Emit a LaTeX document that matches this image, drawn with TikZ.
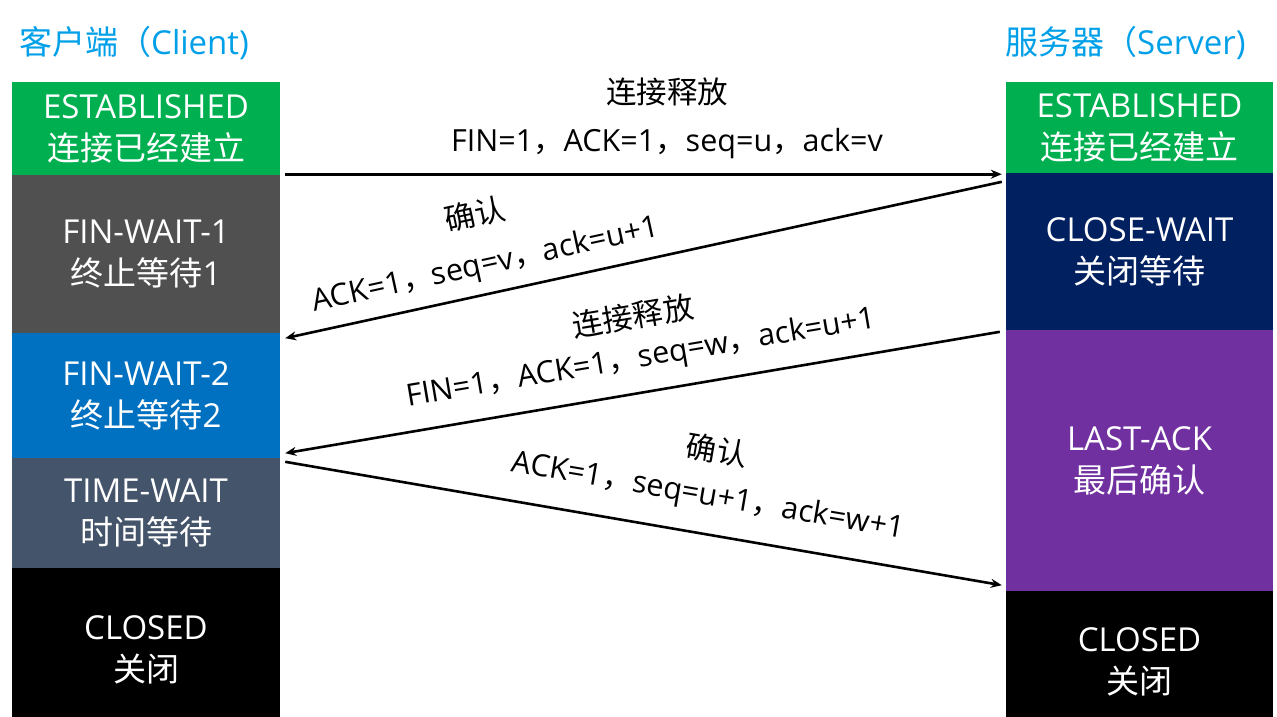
\documentclass[tikz,border=0pt]{standalone}
\usepackage{fontspec}
\setmainfont{Open Sans}
\newfontfamily\cjk{Noto Sans CJK SC}
\usetikzlibrary{arrows.meta}

\definecolor{estgreen}{RGB}{0,176,80}
\definecolor{fwgray}{RGB}{80,80,80}
\definecolor{fwblue}{RGB}{0,112,192}
\definecolor{twslate}{RGB}{68,84,106}
\definecolor{cwnavy}{RGB}{0,32,96}
\definecolor{lapurple}{RGB}{112,48,160}
\definecolor{titleblue}{RGB}{0,160,233}

\newcommand{\zh}[1]{{\cjk #1}}
\newcommand{\dou}{\zh{，}}

\begin{document}
\begin{tikzpicture}[x=1pt,y=-1pt,
    box/.style={inner sep=0pt,minimum width=268pt,text=white,align=center,
        font=\fontsize{33}{42}\selectfont},
    msg/.style={black,line width=2.6pt,-{Stealth[length=11pt,width=9pt]}},
    lbl/.style={inner sep=0pt,font=\fontsize{30.5}{32}\selectfont},
    title/.style={anchor=west,inner sep=0pt,text=titleblue,font=\fontsize{33}{36}\selectfont}]
            \useasboundingbox[fill=white] (0,0) rectangle (1277,716);

            % client side
            \node[title] (ctitle) at (19,43) {\zh{客户端（}Client)};
            \node[box,fill=estgreen,minimum height=93pt] (cest) at (146,128.5) {ESTABLISHED\\\zh{连接已经建立}};
            \node[box,fill=fwgray,minimum height=158pt] (cfw1) at (146,254) {FIN-WAIT-1\\\zh{终止等待}1};
            \node[box,fill=fwblue,minimum height=125pt] (cfw2) at (146,395.5) {FIN-WAIT-2\\\zh{终止等待}2};
            \node[box,fill=twslate,minimum height=110pt] (ctw) at (146,513) {TIME-WAIT\\\zh{时间等待}};
            \node[box,fill=black,minimum height=164pt] (ccl) at (146,650) {CLOSED\\\zh{关闭}};

            % server side
            \node[title] (stitle) at (1005,43) {\zh{服务器（}Server)};
            \node[box,fill=estgreen,minimum width=267pt,minimum height=91pt] (sest) at (1139.5,127.5) {ESTABLISHED\\\zh{连接已经建立}};
            \node[box,fill=cwnavy,minimum width=267pt,minimum height=157pt] (scw) at (1139.5,251.5) {CLOSE-WAIT\\\zh{关闭等待}};
            \node[box,fill=lapurple,minimum width=267pt,minimum height=261pt] (sla) at (1139.5,460.5) {LAST-ACK\\\zh{最后确认}};
            \node[box,fill=black,minimum width=267pt,minimum height=142pt] (scl) at (1139.5,662) {CLOSED\\\zh{关闭}};

            % messages
            \draw[msg] ([xshift=5pt,yshift=1pt]cest.south east) -- ([xshift=-4pt,yshift=-1pt]sest.south west);
            \draw[msg] ([xshift=-4pt,yshift=-9pt]scw.north west) -- ([xshift=5pt,yshift=-5pt]cfw1.south east);
            \draw[msg] ([xshift=-6pt,yshift=-2pt]sla.north west) -- ([xshift=5pt,yshift=5pt]cfw2.south east);
            \draw[msg] ([xshift=5pt,yshift=-4pt]ctw.north east) -- ([xshift=-4pt,yshift=6pt]sla.south west);

            \node[lbl] (m1a) at (667,92) {\zh{连接释放}};
            \node[lbl] (m1b) at (667,144) {FIN=1\dou ACK=1\dou seq=u\dou ack=v};
            \node[lbl,rotate=12.3] (m2a) at (475,214) {\zh{确认}};
            \node[lbl,rotate=12.3] (m2b) at (486,266) {ACK=1\dou seq=v\dou ack=u+1};
            \node[lbl,rotate=9.6] (m3a) at (633,316) {\zh{连接释放}};
            \node[lbl,rotate=9.6] (m3b) at (641,359) {FIN=1\dou ACK=1\dou seq=w\dou ack=u+1};
            \node[lbl,rotate=-9.7] (m4a) at (717,450) {\zh{确认}};
            \node[lbl,rotate=-9.7] (m4b) at (708,497) {ACK=1\dou seq=u+1\dou ack=w+1};
        \end{tikzpicture}
\end{document}
